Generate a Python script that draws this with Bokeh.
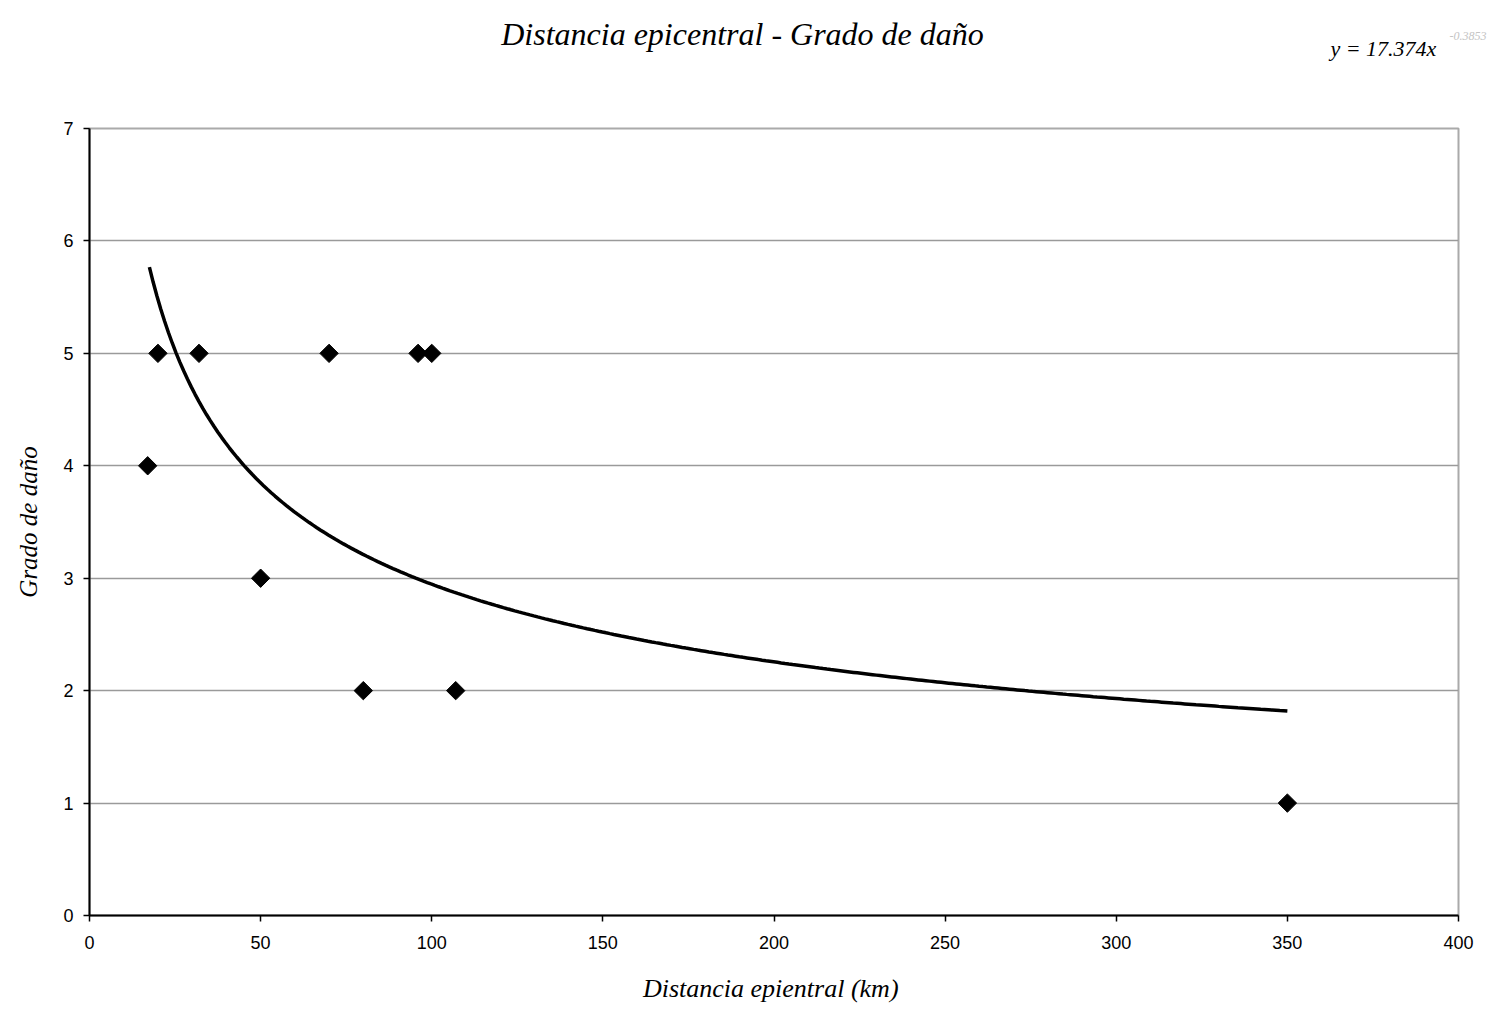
import numpy as np
from bokeh.plotting import figure
from bokeh.models import Range1d, FixedTicker
from bokeh.layouts import column, row
from bokeh.core.properties import value
from bokeh.embed import file_html
from bokeh.resources import INLINE

# Data
distancia_km = [17, 20, 32, 70, 96, 100, 50, 80, 107, 350]
grado_dano = [4, 5, 5, 5, 5, 5, 3, 2, 2, 1]

# Power trendline y = a * x^b
trend_a = 17.374
trend_b = -0.3853
trend_x_start = 17.5
trend_x_end = 350

x_ticks = [0, 50, 100, 150, 200, 250, 300, 350, 400]
y_ticks = [0, 1, 2, 3, 4, 5, 6, 7]

title_text = "Distancia epicentral - Grado de daño"
x_label = "Distancia epientral  (km)"
y_label = "Grado de daño"
eq_text = "y = 17.374x"
eq_exp = "-0.3853"

W = 1490
HEAD_H = 100
MAIN_H = 910
FL, FR, FT, FB = 89, 1458, 128, 915  # frame edges in page pixels

# ---- header strip with title and equation ----
head = figure(width=W, height=HEAD_H, output_backend="svg", toolbar_location=None,
              x_range=Range1d(0, W), y_range=Range1d(HEAD_H, 0),
              min_border=0, x_axis_type=None, y_axis_type=None)
head.outline_line_color = None
head.grid.grid_line_color = None
head.text(x=[742], y=[33], text=[title_text], text_align="center", text_baseline="middle",
          text_font=value("Liberation Serif"), text_font_style="italic", text_font_size="32px",
          text_color="black")
head.text(x=[1330], y=[48], text=[eq_text], text_align="left", text_baseline="middle",
          text_font=value("Liberation Serif"), text_font_style="italic", text_font_size="22px",
          text_color="black")
head.text(x=[1449], y=[35], text=[eq_exp], text_align="left", text_baseline="middle",
          text_font=value("Liberation Serif"), text_font_style="italic", text_font_size="12px",
          text_color="#c4c4c4")

# ---- main chart ----
p = figure(width=W, height=MAIN_H, output_backend="svg", toolbar_location=None,
           x_range=Range1d(0, 400), y_range=Range1d(0, 7),
           min_border_left=FL, min_border_right=W - FR,
           min_border_top=FT - HEAD_H, min_border_bottom=HEAD_H + MAIN_H - FB)

p.outline_line_color = "#aaaaaa"
p.outline_line_width = 2
p.background_fill_color = "white"

p.xgrid.grid_line_color = None
p.ygrid.grid_line_color = "#9a9a9a"
p.ygrid.grid_line_width = 1.5
p.ygrid.ticker = FixedTicker(ticks=y_ticks)

for ax in (p.xaxis, p.yaxis):
    ax.axis_line_color = "black"
    ax.axis_line_width = 2
    ax.major_tick_line_color = "black"
    ax.major_tick_line_width = 1.5
    ax.major_tick_out = 6
    ax.major_tick_in = 0
    ax.minor_tick_line_color = None
    ax.major_label_text_font = "Liberation Sans"
    ax.major_label_text_font_size = "18px"
    ax.major_label_text_color = "black"
    ax.axis_label_text_font = "Liberation Serif"
    ax.axis_label_text_font_style = "italic"
    ax.axis_label_text_color = "black"

p.xaxis.axis_label_text_font_size = "26px"
p.yaxis.axis_label_text_font_size = "25px"
p.xaxis.ticker = FixedTicker(ticks=x_ticks)
p.yaxis.ticker = FixedTicker(ticks=y_ticks)
p.xaxis.major_label_standoff = 14
p.yaxis.major_label_standoff = 10
p.xaxis.axis_label = x_label
p.yaxis.axis_label = y_label
p.xaxis.axis_label_standoff = 22
p.yaxis.axis_label_standoff = 18

# trendline
tx = np.linspace(trend_x_start, trend_x_end, 300)
ty = trend_a * tx ** trend_b
p.line(tx, ty, line_color="black", line_width=3.5)

# points
p.scatter(distancia_km, grado_dano, marker="square", angle=np.pi / 4, size=13,
          fill_color="black", line_color="black")

layout = column(row(head), p, spacing=0)
open("out.html", "w").write(file_html(layout, INLINE))
